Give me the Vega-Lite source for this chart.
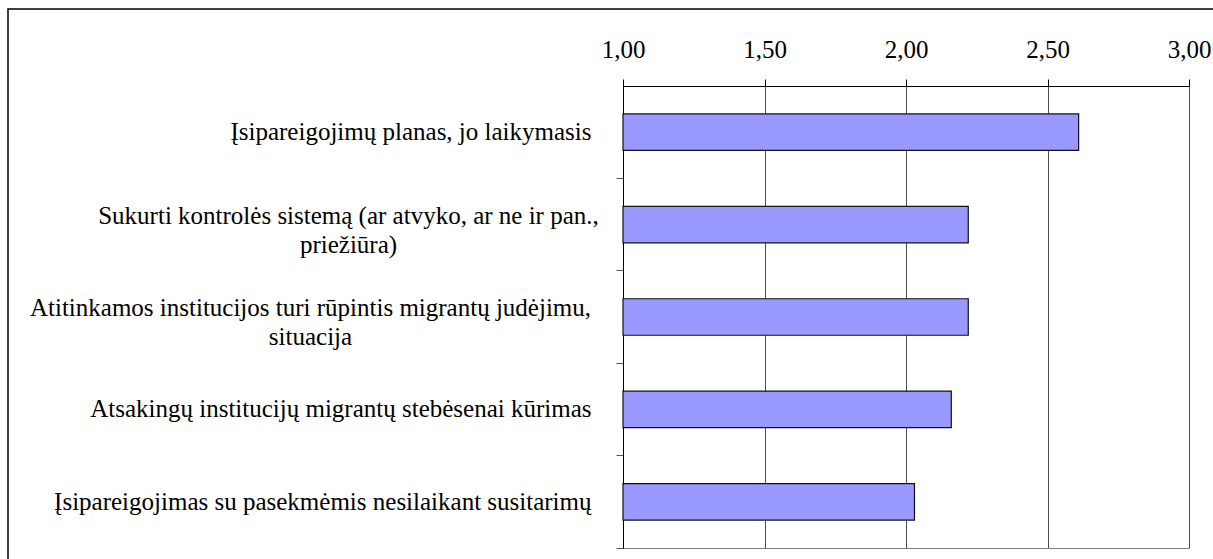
{
  "$schema": "https://vega.github.io/schema/vega-lite/v6.json",
  "width": 1205,
  "height": 550,
  "autosize": {"type": "none"},
  "padding": {"left": 8, "top": 9, "right": 0, "bottom": 0},
  "background": "white",
  "config": {
    "view": {"stroke": "black", "strokeWidth": 1.5, "strokeDash": [1205, 1755, 550]},
    "font": "Liberation Serif"
  },
  "data": {
    "values": [
      {"item": "Įsipareigojimų planas, jo laikymasis", "value": 2.61},
      {"item": "Sukurti kontrolės sistemą (ar atvyko, ar ne ir pan.,\npriežiūra)", "value": 2.22},
      {"item": "Atitinkamos institucijos turi rūpintis migrantų judėjimu,\nsituacija", "value": 2.22},
      {"item": "Atsakingų institucijų migrantų stebėsenai kūrimas", "value": 2.16},
      {"item": "Įsipareigojimas su pasekmėmis nesilaikant susitarimų", "value": 2.03}
    ]
  },
  "layer": [
    {
      "mark": {"type": "bar", "opacity": 0},
      "encoding": {
        "y": {
          "field": "item",
          "type": "nominal",
          "sort": null,
          "scale": {"range": [77, 539], "paddingInner": 0.605, "paddingOuter": 0.3025},
          "axis": {
            "title": null,
            "orient": "left",
            "offset": -615,
            "domain": true,
            "domainColor": "black",
            "ticks": true,
            "tickColor": "#555555",
            "tickSize": 7,
            "bandPosition": 1.766,
            "grid": false,
            "labelFont": "Liberation Serif",
            "labelFontSize": 25,
            "labelColor": "black",
            "labelLimit": 800,
            "labelExpr": "split(datum.label, '\\n')",
            "labelLineHeight": 29,
            "labelAlign": {"condition": {"test": "indexof(datum.value, '\\n') >= 0", "value": "center"}, "value": "right"},
            "labelPadding": {"condition": [{"test": "indexof(datum.value, 'Sukurti') == 0", "value": 268}, {"test": "indexof(datum.value, 'Atitinkamos') == 0", "value": 306}], "value": 25},
            "labelOffset": {"condition": {"test": "indexof(datum.value, '\\n') >= 0", "value": -9}, "value": 0}
          }
        },
        "x": {
          "field": "value",
          "type": "quantitative",
          "scale": {"domain": [1, 3], "range": [615, 1181], "nice": false, "zero": false},
          "axis": {
            "orient": "top",
            "offset": -77,
            "title": null,
            "values": [1, 1.5, 2, 2.5, 3],
            "labelExpr": "replace(format(datum.value, '.2f'), '.', ',')",
            "labelFont": "Liberation Serif",
            "labelFontSize": 25,
            "labelColor": "black",
            "labelPadding": 17,
            "labelFlush": false,
            "labelOverlap": false,
            "domainColor": "black",
            "tickColor": "black",
            "tickSize": 7,
            "grid": true,
            "gridColor": "#4d4d4d",
            "gridOpacity": 1,
            "gridWidth": 1
          }
        },
        "x2": {"datum": 1}
      }
    },
    {
      "mark": {"type": "bar", "fill": "#9999FF", "stroke": "#111111", "strokeWidth": 1.2},
      "encoding": {
        "y": {"field": "item", "type": "nominal", "sort": null},
        "x": {
          "field": "value",
          "type": "quantitative",
          "axis": {"orient": "bottom", "offset": -11, "labels": false, "ticks": false, "grid": false, "domainColor": "#808080", "title": null}
        },
        "x2": {"datum": 1}
      }
    }
  ],
  "resolve": {"axis": {"x": "independent"}}
}
